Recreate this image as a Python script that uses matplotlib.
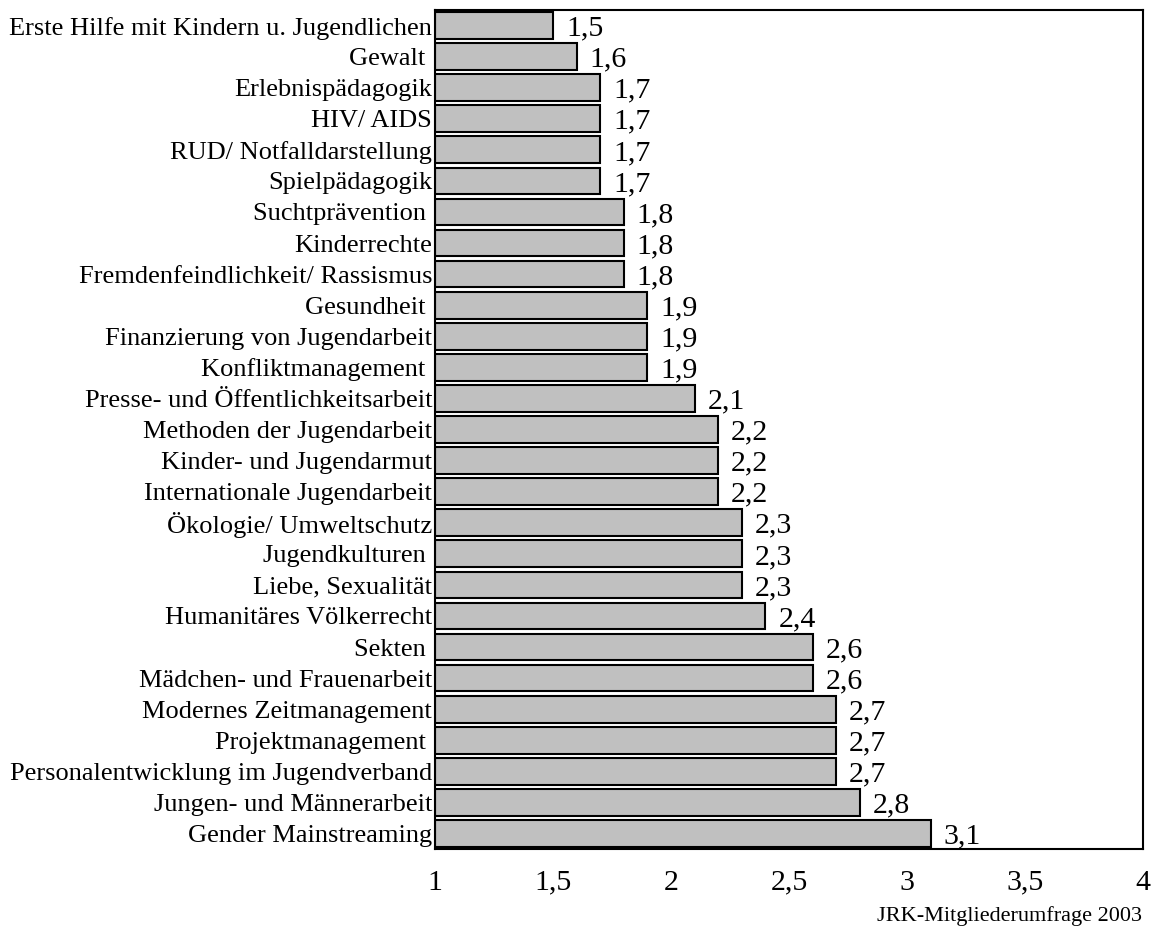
import matplotlib
matplotlib.use('Agg')
import matplotlib.pyplot as plt

plt.rcParams['font.family'] = ['Liberation Serif', 'DejaVu Serif']

themen = ['Erste Hilfe mit Kindern u. Jugendlichen', 'Gewalt ', 'Erlebnispädagogik',
          'HIV/ AIDS', 'RUD/ Notfalldarstellung', 'Spielpädagogik', 'Suchtprävention ',
          'Kinderrechte', 'Fremdenfeindlichkeit/ Rassismus', 'Gesundheit ',
          'Finanzierung von Jugendarbeit', 'Konfliktmanagement ',
          'Presse- und Öffentlichkeitsarbeit', 'Methoden der Jugendarbeit',
          'Kinder- und Jugendarmut', 'Internationale Jugendarbeit', 'Ökologie/ Umweltschutz',
          'Jugendkulturen ', 'Liebe, Sexualität', 'Humanitäres Völkerrecht', 'Sekten ',
          'Mädchen- und Frauenarbeit', 'Modernes Zeitmanagement', 'Projektmanagement ',
          'Personalentwicklung im Jugendverband', 'Jungen- und Männerarbeit',
          'Gender Mainstreaming']
werte = [1.5, 1.6, 1.7, 1.7, 1.7, 1.7, 1.8, 1.8, 1.8, 1.9, 1.9, 1.9, 2.1, 2.2, 2.2, 2.2,
         2.3, 2.3, 2.3, 2.4, 2.6, 2.6, 2.7, 2.7, 2.7, 2.8, 3.1]
x_ticks = [1, 1.5, 2, 2.5, 3, 3.5, 4]
x_tick_labels = ['1', '1,5', '2', '2,5', '3', '3,5', '4']

fig = plt.figure(figsize=(11.59, 9.33), dpi=100)
ax = fig.add_axes([0.3753, 0.090, 0.6109, 0.8993])

pos = list(range(len(themen)))
breite = [w - 1 for w in werte]
ax.barh(pos, breite, left=1, height=0.86, color='#c0c0c0', edgecolor='black', linewidth=1.5)

for p, w in zip(pos, werte):
    ax.text(w + 0.055, p + 0.1, f'{w:.1f}'.replace('.', ','), fontsize=21.5,
            va='center', ha='left')

ax.set_xlim(1, 4)
ax.set_ylim(len(themen) - 0.5, -0.5)
ax.set_yticks(pos)
ax.set_yticklabels(themen, fontsize=19)
ax.set_xticks(x_ticks)
ax.set_xticklabels(x_tick_labels, fontsize=21.5)
ax.tick_params(length=0)
ax.tick_params(axis='x', pad=15)
ax.tick_params(axis='y', pad=2)
for s in ax.spines.values():
    s.set_linewidth(1.5)

fig.text(0.985, 0.008, 'JRK-Mitgliederumfrage 2003', fontsize=16, ha='right', va='bottom')

fig.savefig('out.png', dpi=100)
